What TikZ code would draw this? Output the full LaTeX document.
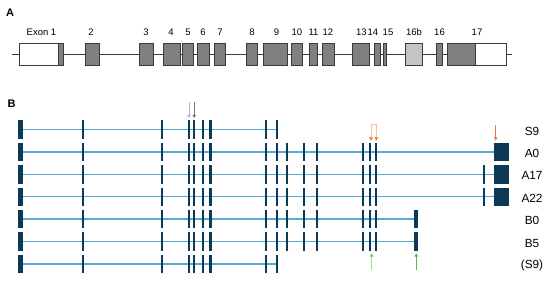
\documentclass[tikz,border=0pt]{standalone}
\usepackage{fontspec}
\setmainfont{Liberation Sans}
\usetikzlibrary{arrows.meta}
\definecolor{navy}{HTML}{0B3A57}
\definecolor{intron}{HTML}{5AA8D8}
\definecolor{exgray}{HTML}{808080}
\definecolor{exedge}{HTML}{3A3A3A}
\definecolor{exlight}{HTML}{C4C4C4}
\definecolor{orangeA}{HTML}{F0782E}
\definecolor{orangeL}{HTML}{F8BFA0}
\definecolor{greenA}{HTML}{5DB84F}
\definecolor{greenL}{HTML}{A3D895}
\definecolor{greenM}{HTML}{7CC36C}
\definecolor{grayL}{HTML}{B4B4B4}
\definecolor{grayD}{HTML}{7A7A7A}
\tikzset{
  exonA/.style={draw=exedge, line width=0.7pt, fill=exgray},
  utrA/.style={draw=exedge, line width=0.7pt, fill=white},
  altA/.style={draw=exedge, line width=0.7pt, fill=exlight},
  exlab/.style={font=\fontsize{9.5}{10}\selectfont, inner sep=0pt},
  panel/.style={font=\fontsize{11}{12}\selectfont\bfseries, inner sep=0pt},
  isolab/.style={font=\fontsize{11.8}{13}\selectfont, inner sep=0pt},
  barB/.style={fill=navy},
  intronB/.style={draw=intron, line width=1.4pt},
  tipS/.style={-{Triangle[length=3.2pt,width=3.6pt]}},
}
\newcommand\barsB[2]{%
  \foreach \x in {#2}
    \fill[barB] (\x-1.1,#1-9.2) rectangle (\x+1.1,#1+9.2);}
\newcommand\firstB[1]{\fill[barB] (18.3,#1-9.2) rectangle (22.7,#1+9.2);}
\newcommand\commonB[1]{\barsB{#1}{82.7,162.3,189,194,202.7,210.5,265.7,276.7}}
\newcommand\midB[1]{\barsB{#1}{286.7,304.3,316.7,363.3,369.8,376}}
\begin{document}
\begin{tikzpicture}[x=1pt,y=-1pt]
\useasboundingbox (0,0) rectangle (550,282);
% ---------- Panel A ----------
\node[panel] (pA) at (10,13) {A};
\draw[exedge, line width=0.7pt] (12,54) -- (511.7,54);
\def\yt{43.3}\def\yb{65}
\draw[utrA] (19.3,\yt) rectangle (58.3,\yb);
\draw[exonA] (58.3,\yt) rectangle (63.3,\yb);
\foreach \a/\b in {85/99.3,139.3/153.3,163.3/180,182.3/193.3,197.7/209,214/225.3,246.7/257.3,263.3/287.7,291/302.7,309/317.7,322.3/334,352.3/369,374.3/380.3,383/386.7,436.7/442.3}
  \draw[exonA] (\a,\yt) rectangle (\b,\yb);
\draw[altA] (405.7,\yt) rectangle (422.3,\yb);
\draw[exonA] (447.3,\yt) rectangle (475,\yb);
\draw[utrA] (475,\yt) rectangle (506.7,\yb);
\foreach \x/\t [count=\i] in {41.5/Exon 1,91/2,146/3,171/4,188/5,203/6,220/7,252/8,276.5/9,297/10,313.5/11,328/12,361.5/13,373/14,388/15,414/16b,439.5/16,477/17}
  \node[exlab] (lA\i) at (\x,32.5) {\t};
% ---------- Panel B ----------
\node[panel] (pB) at (11.5,103.5) {B};
% S9 and (S9)
\foreach \r in {129.5,263.9}{
  \draw[intronB] (20.5,\r) -- (276.7,\r);
  \firstB{\r}\commonB{\r}}
% A0, A17, A22
\foreach \r in {151.9,174.3,196.7}{
  \draw[intronB] (20.5,\r) -- (494.3,\r);
  \firstB{\r}\commonB{\r}\midB{\r}
  \fill[barB] (494.3,\r-9.2) rectangle (509.3,\r+9.2);}
\foreach \r in {174.3,196.7}{\barsB{\r}{484.3}}
% B0, B5
\foreach \r in {219.1,241.5}{
  \draw[intronB] (20.5,\r) -- (416.3,\r);
  \firstB{\r}\commonB{\r}\midB{\r}
  \fill[barB] (414.3,\r-9.2) rectangle (418.3,\r+9.2);}
% labels
\foreach \r/\t [count=\i] in {129.5/S9,151.9/A0,174.3/A17,196.7/A22,219.1/B0,241.5/B5,263.9/(S9)}
  \node[isolab] (iso\i) at (532,\r+1.5) {\t};
% arrows
\coordinate (g1s) at (189,102); \coordinate (g1e) at (189,118);
\coordinate (g2s) at (194.2,102); \coordinate (g2e) at (194.2,118);
\draw[tipS, grayL, line width=0.9pt] (g1s) -- (g1e);
\draw[tipS, grayD, line width=0.9pt] (g2s) -- (g2e);
\coordinate (o1s) at (371,124); \coordinate (o1e) at (371,140.5);
\coordinate (o2s) at (376.3,124); \coordinate (o2e) at (376.3,140.5);
\draw[orangeL, line width=0.7pt, -{Triangle[length=3.2pt,width=3.8pt,color=orangeA,fill=orangeA]}] (o1s) -- (o1e);
\draw[orangeL, line width=0.7pt, -{Triangle[length=3.2pt,width=3.8pt,color=orangeA,fill=orangeA]}] (o2s) -- (o2e);
\draw[orangeL, line width=0.7pt] (o1s) -- (o2s);
\coordinate (o3s) at (495.7,124.5); \coordinate (o3e) at (495.7,140.5);
\draw[tipS, orangeA, line width=1pt] (o3s) -- (o3e);
\coordinate (gr1s) at (371.7,270); \coordinate (gr1e) at (371.7,253.3);
\draw[greenL, line width=0.6pt, -{Triangle[length=3.2pt,width=3.6pt,color=greenM,fill=greenM]}] (gr1s) -- (gr1e);
\coordinate (gr2s) at (416.3,270); \coordinate (gr2e) at (416.3,253.3);
\draw[tipS, greenA, line width=1.1pt] (gr2s) -- (gr2e);
\end{tikzpicture}
\end{document}
